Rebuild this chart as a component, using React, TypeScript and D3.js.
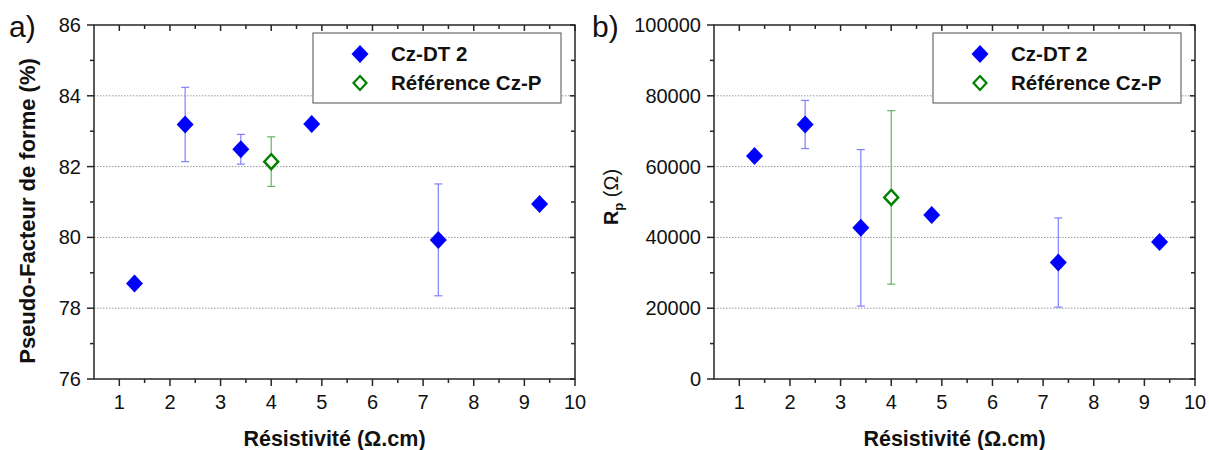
import React from "react";
import * as d3 from "d3";

const xCz = [1.3, 2.3, 3.4, 4.8, 7.3, 9.3];
const ffCz = [78.7, 83.19, 82.49, 83.2, 79.93, 80.94];
const ffCzErr = [0, 1.05, 0.42, 0, 1.58, 0];
const xRef = [4.0];
const ffRef = [82.14];
const ffRefErr = [0.7];
const rpCz = [63000, 71900, 42700, 46300, 32900, 38700];
const rpCzErr = [0, 6800, 22100, 0, 12600, 0];
const rpRef = [51300];
const rpRefErr = [24500];

const xTicks = [1, 2, 3, 4, 5, 6, 7, 8, 9, 10];
const ffTicks = [76, 78, 80, 82, 84, 86];
const rpTicks = [0, 20000, 40000, 60000, 80000, 100000];

const seriesNames = ["Cz-DT 2", "Référence Cz-P"];

const FONT = "'Liberation Sans', Arial, Helvetica, sans-serif";
const BLUE = "#0000ff";
const GREEN = "#008000";
const BLUE_ERR = "#7f7fff";
const GREEN_ERR = "#66b266";
const AXIS = "#262626";

type PanelProps = {
  left: number;
  label: string;
  labelX: number;
  yDomain: [number, number];
  yTicks: number[];
  yCz: number[];
  yCzErr: number[];
  yRef: number[];
  yRefErr: number[];
  yTitle: React.ReactNode;
  yTitleSize: number;
  yTitleX: number;
  yTitleY: number;
};

function diamond(cx: number, cy: number, rx: number, ry: number) {
  return `M${cx},${cy - ry}L${cx + rx},${cy}L${cx},${cy + ry}L${cx - rx},${cy}Z`;
}

function Panel(p: PanelProps) {
  const x0 = p.left;
  const x1 = p.left + 481;
  const y0 = 25;
  const y1 = 379;
  const xs = d3.scaleLinear().domain([0.5, 10]).range([x0, x1]);
  const ys = d3.scaleLinear().domain(p.yDomain).range([y1, y0]);
  const step = p.yTicks[1] - p.yTicks[0];
  const yMinor = p.yTicks.slice(0, -1).map((t) => t + step / 2);
  const xMinor = xTicks.slice(0, -1).map((t) => t + 0.5);
  const errBar = (x: number, y: number, e: number, color: string, key: string) => {
    if (!e) return null;
    const cx = xs(x);
    const top = ys(y + e);
    const bot = ys(y - e);
    return (
      <g key={key} stroke={color} strokeWidth={1.2}>
        <line x1={cx} x2={cx} y1={top} y2={bot} />
        <line x1={cx - 4} x2={cx + 4} y1={top} y2={top} />
        <line x1={cx - 4} x2={cx + 4} y1={bot} y2={bot} />
      </g>
    );
  };
  const legX = x0 + 219;
  const legY = 33;
  return (
    <g>
      <text x={p.labelX} y={37} fontSize={30} fontFamily={FONT} fill="#111">
        {p.label}
      </text>
      {p.yTicks.slice(1, -1).map((t) => (
        <line key={"g" + t} x1={x0} x2={x1} y1={ys(t)} y2={ys(t)} stroke="#9a9a9a" strokeWidth={1} strokeDasharray="1.5,1.5" />
      ))}
      {xCz.map((x, i) => errBar(x, p.yCz[i], p.yCzErr[i], BLUE_ERR, "ec" + i))}
      {xRef.map((x, i) => errBar(x, p.yRef[i], p.yRefErr[i], GREEN_ERR, "er" + i))}
      {xCz.map((x, i) => (
        <path key={"m" + i} d={diamond(xs(x), ys(p.yCz[i]), 8.5, 9)} fill={BLUE} />
      ))}
      {xRef.map((x, i) => (
        <path key={"r" + i} d={diamond(xs(x), ys(p.yRef[i]), 7, 7.5)} fill="#fff" stroke={GREEN} strokeWidth={2.4} />
      ))}
      <rect x={x0} y={y0} width={x1 - x0} height={y1 - y0} fill="none" stroke={AXIS} strokeWidth={1.5} />
      {xTicks.map((t) => (
        <g key={"xt" + t}>
          <line x1={xs(t)} x2={xs(t)} y1={y1} y2={y1 + 7} stroke={AXIS} strokeWidth={1.5} />
          <line x1={xs(t)} x2={xs(t)} y1={y0} y2={y0 + 6} stroke={AXIS} strokeWidth={1.5} />
          <text x={xs(t)} y={409} textAnchor="middle" fontSize={20} fontFamily={FONT} fill="#111">
            {t}
          </text>
        </g>
      ))}
      {xMinor.map((t) => (
        <g key={"xm" + t}>
          <line x1={xs(t)} x2={xs(t)} y1={y1} y2={y1 + 4} stroke={AXIS} strokeWidth={1.5} />
          <line x1={xs(t)} x2={xs(t)} y1={y0} y2={y0 + 4} stroke={AXIS} strokeWidth={1.5} />
        </g>
      ))}
      {p.yTicks.map((t) => (
        <g key={"yt" + t}>
          <line x1={x0 - 7} x2={x0} y1={ys(t)} y2={ys(t)} stroke={AXIS} strokeWidth={1.5} />
          <line x1={x1 - 5} x2={x1} y1={ys(t)} y2={ys(t)} stroke={AXIS} strokeWidth={1.5} />
          <text x={x0 - 13} y={ys(t) + 7} textAnchor="end" fontSize={20} fontFamily={FONT} fill="#111">
            {t}
          </text>
        </g>
      ))}
      {yMinor.map((t) => (
        <g key={"ym" + t}>
          <line x1={x0 - 4} x2={x0} y1={ys(t)} y2={ys(t)} stroke={AXIS} strokeWidth={1.5} />
          <line x1={x1 - 4} x2={x1} y1={ys(t)} y2={ys(t)} stroke={AXIS} strokeWidth={1.5} />
        </g>
      ))}
      <text x={(x0 + x1) / 2} y={446} textAnchor="middle" fontSize={21.5} fontWeight="bold" fontFamily={FONT} fill="#111">
        Résistivité (Ω.cm)
      </text>
      <text
        transform={`translate(${p.yTitleX},${p.yTitleY}) rotate(-90)`}
        textAnchor="middle"
        fontSize={p.yTitleSize}
        fontWeight="bold"
        fontFamily={FONT}
        fill="#111"
      >
        {p.yTitle}
      </text>
      <rect x={legX} y={legY} width={248} height={70} fill="#fff" stroke="#6b6b6b" strokeWidth={1.2} />
      <path d={diamond(legX + 47, legY + 21, 8.5, 9)} fill={BLUE} />
      <path d={diamond(legX + 47, legY + 50, 6.5, 7)} fill="#fff" stroke={GREEN} strokeWidth={2.2} />
      <text x={legX + 78} y={legY + 28} fontSize={20.5} fontWeight="bold" fontFamily={FONT} fill="#111">
        {seriesNames[0]}
      </text>
      <text x={legX + 78} y={legY + 57} fontSize={20.5} fontWeight="bold" fontFamily={FONT} fill="#111">
        {seriesNames[1]}
      </text>
    </g>
  );
}

export default function App() {
  return (
    <svg
      width={1209}
      height={450}
      viewBox="0 0 1209 450"
      style={{ position: "absolute", left: 0, top: 0, background: "#fff" }}
    >
      <rect width={1209} height={450} fill="#fff" />
      <Panel
        left={94}
        label="a)"
        labelX={9}
        yDomain={[76, 86]}
        yTicks={ffTicks}
        yCz={ffCz}
        yCzErr={ffCzErr}
        yRef={ffRef}
        yRefErr={ffRefErr}
        yTitle="Pseudo-Facteur de forme (%)"
        yTitleSize={22}
        yTitleX={35}
        yTitleY={211}
      />
      <Panel
        left={714}
        label="b)"
        labelX={592}
        yDomain={[0, 100000]}
        yTicks={rpTicks}
        yCz={rpCz}
        yCzErr={rpCzErr}
        yRef={rpRef}
        yRefErr={rpRefErr}
        yTitle={
          <>
            <tspan>R</tspan>
            <tspan fontSize={13} dy={5}>p</tspan>
            <tspan dy={-5} fontWeight="normal"> (Ω)</tspan>
          </>
        }
        yTitleSize={20}
        yTitleX={618}
        yTitleY={197}
      />
    </svg>
  );
}
